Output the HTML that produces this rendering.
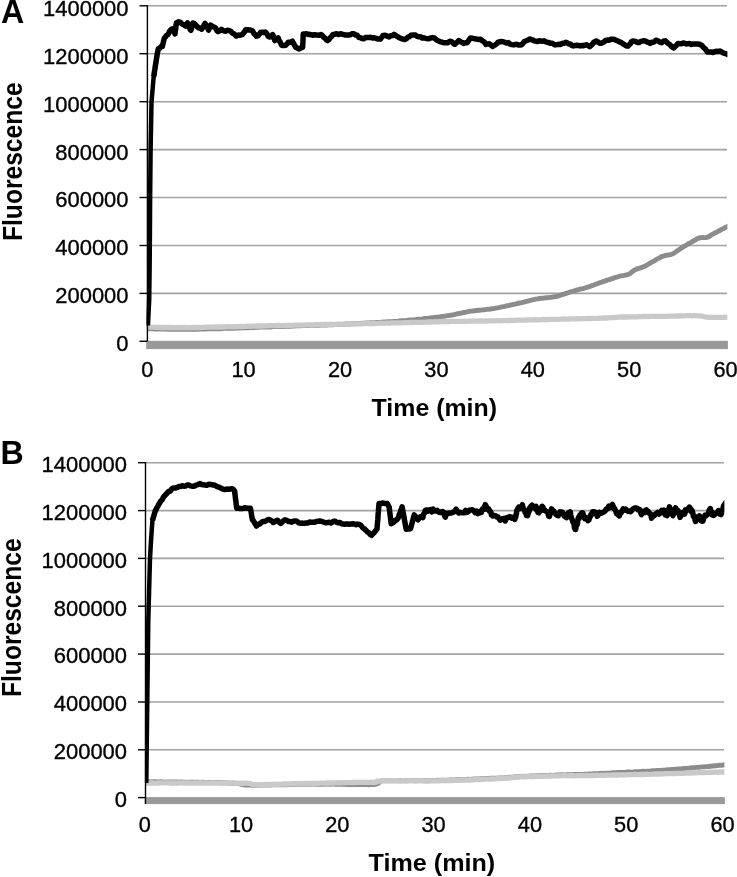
<!DOCTYPE html>
<html lang="en">
<head>
<meta charset="utf-8">
<title>Fluorescence vs Time</title>
<style>
html,body{margin:0;padding:0;background:#fff;}
body{width:737px;height:877px;overflow:hidden;}
svg{display:block;}
text{font-family:"Liberation Sans",sans-serif;fill:#000;}
.t{font-size:21.5px;stroke:#000;stroke-width:0.35px;}
.b{font-weight:bold;font-size:23.5px;}
.f{font-weight:bold;font-size:27.6px;}
.p{font-weight:bold;font-size:33.2px;}
.g{stroke:#a2a2a2;stroke-width:1.6;fill:none;}
.ax{stroke:#000;stroke-width:1.4;fill:none;}
.k{stroke:#000;stroke-width:5.5;fill:none;stroke-linejoin:round;stroke-linecap:butt;}
.k2{stroke:#000;stroke-width:4.5;fill:none;stroke-linejoin:round;stroke-linecap:butt;}
.d{stroke:#8c8c8c;stroke-width:4.9;fill:none;stroke-linejoin:round;}
.l{stroke:#c9c9c9;stroke-width:5.3;fill:none;stroke-linejoin:round;}
</style>
</head>
<body>
<svg width="737" height="877" viewBox="0 0 737 877">
<rect width="737" height="877" fill="#fff"/>

<!-- panel A -->
<clipPath id="clipA"><rect x="146.4" y="-4.2" width="581.0" height="355.5"/></clipPath>
<line class="g" x1="147" y1="5.8" x2="727" y2="5.8"/>
<line class="g" x1="147" y1="53.7" x2="727" y2="53.7"/>
<line class="g" x1="147" y1="101.7" x2="727" y2="101.7"/>
<line class="g" x1="147" y1="149.6" x2="727" y2="149.6"/>
<line class="g" x1="147" y1="197.5" x2="727" y2="197.5"/>
<line class="g" x1="147" y1="245.5" x2="727" y2="245.5"/>
<line class="g" x1="147" y1="293.4" x2="727" y2="293.4"/>
<rect x="146.2" y="340.8" width="581.7" height="8.3" fill="#999"/>
<polyline class="d" clip-path="url(#clipA)" points="147.0,328.7 148.1,328.6 149.5,328.8 151.0,328.8 152.8,328.9 154.6,329.0 156.7,328.9 158.8,329.0 161.0,328.9 163.3,329.0 165.7,329.1 168.1,329.2 170.5,329.3 172.9,329.2 175.3,329.2 177.7,329.2 180.0,329.4 181.8,329.2 183.7,329.3 185.6,329.4 187.6,329.1 189.5,329.3 191.5,329.3 193.5,329.1 195.5,329.2 197.5,329.2 199.6,329.0 201.6,329.0 203.7,329.1 205.7,329.0 207.8,328.9 209.8,328.8 211.9,328.8 213.9,328.7 216.0,328.7 218.0,328.6 220.0,328.7 222.0,328.6 224.0,328.4 226.0,328.4 228.0,328.3 230.0,328.3 232.0,328.2 234.0,328.2 236.0,328.1 238.0,328.0 240.0,328.0 242.0,327.8 244.0,327.9 246.0,327.6 248.0,327.7 250.0,327.5 252.0,327.5 254.0,327.5 256.0,327.3 258.0,327.2 260.0,327.1 262.0,327.0 264.0,327.1 266.0,327.0 268.0,327.0 270.0,327.0 272.0,326.8 274.0,326.6 276.0,326.6 278.0,326.6 280.0,326.4 282.0,326.5 284.0,326.5 286.0,326.4 288.0,326.2 290.0,326.2 292.0,326.0 294.0,326.0 296.0,325.9 298.0,325.9 300.0,325.8 302.0,325.6 304.0,325.6 306.1,325.5 308.2,325.5 310.2,325.4 312.3,325.4 314.4,325.3 316.5,325.3 318.6,325.3 320.6,325.1 322.7,325.0 324.7,325.0 326.7,325.0 328.7,324.9 330.7,324.8 332.6,324.8 334.5,324.5 336.4,324.6 338.2,324.4 340.0,324.4 342.3,324.4 344.5,324.3 346.6,324.0 348.7,324.0 350.7,323.8 352.7,323.7 354.7,323.8 356.6,323.6 358.5,323.5 360.4,323.4 362.3,323.3 364.2,323.2 366.1,322.9 368.0,322.9 370.0,322.8 372.0,322.6 374.0,322.6 376.0,322.5 378.0,322.4 380.0,322.4 382.0,322.1 384.0,322.0 386.0,322.0 388.0,321.7 390.0,321.6 392.0,321.6 394.0,321.4 396.0,321.4 398.0,321.2 400.0,320.9 402.0,320.8 404.1,320.7 406.2,320.6 408.3,320.2 410.4,320.0 412.5,320.0 414.6,319.8 416.7,319.4 418.7,319.2 420.7,319.1 422.7,318.9 424.6,318.5 426.5,318.4 428.3,318.3 430.0,318.0 432.4,317.6 434.6,317.4 436.7,317.2 438.7,317.1 440.6,316.7 442.5,316.4 444.3,316.3 446.1,315.9 448.0,315.6 450.0,315.3 452.0,315.0 454.0,314.7 456.0,314.2 458.0,313.7 460.1,313.3 462.1,312.9 464.1,312.5 466.2,312.1 468.3,311.5 470.4,311.1 472.3,311.0 474.3,310.8 476.3,310.5 478.3,310.3 480.3,310.2 482.3,309.9 484.3,309.8 486.4,309.4 488.5,309.2 490.6,309.0 492.7,308.6 494.7,308.5 496.7,307.9 498.8,307.6 500.9,307.1 503.0,306.7 505.1,306.3 507.2,305.7 509.3,305.4 511.3,304.9 513.3,304.4 515.3,304.1 517.2,303.5 519.4,303.0 521.6,302.6 523.7,302.1 525.7,301.5 527.7,301.2 529.7,300.7 531.7,300.0 533.6,299.7 535.6,299.2 537.5,298.9 539.6,298.5 541.7,298.3 543.8,298.1 545.9,297.8 547.9,297.7 549.9,297.4 551.9,297.2 553.9,296.8 555.8,296.6 557.9,296.1 560.0,295.4 562.1,294.7 564.1,294.1 566.1,293.4 568.1,292.7 570.1,291.9 572.1,291.5 574.2,290.9 576.4,290.2 578.5,289.6 580.7,288.9 582.8,288.6 584.9,288.0 586.7,287.4 588.4,287.0 591.1,285.9 593.2,285.2 595.1,284.4 597.2,283.7 599.1,282.9 601.1,282.4 603.1,281.6 605.2,280.9 607.4,280.1 609.4,279.6 611.4,278.9 613.6,278.1 615.7,277.3 617.7,276.8 619.6,276.1 622.1,275.7 624.4,275.4 626.4,274.9 628.4,274.4 630.6,273.1 632.6,271.3 634.9,269.9 636.6,269.0 638.6,268.5 640.6,267.9 642.7,267.0 644.7,266.3 646.7,265.2 648.6,264.2 650.6,262.9 652.5,261.7 654.5,260.7 656.5,259.4 658.5,258.4 660.4,257.3 662.4,256.3 664.2,255.8 666.3,255.2 668.3,255.0 670.3,254.7 672.4,254.0 674.2,253.1 676.2,251.6 678.1,250.2 680.1,249.0 682.1,247.6 684.1,246.4 686.1,245.3 688.1,244.0 690.0,243.0 691.9,241.9 694.1,240.6 696.2,239.3 698.2,238.3 700.1,237.7 702.5,237.4 704.6,237.6 706.6,237.5 709.0,236.6 711.5,234.8 713.3,234.0 715.4,232.7 717.5,231.7 719.6,230.5 721.7,229.3 723.8,228.4 725.7,227.3 727.0,226.7 730.0,225.2"/>
<polyline class="l" clip-path="url(#clipA)" points="147.0,327.2 148.1,327.2 149.5,327.2 151.0,327.2 152.8,327.2 154.6,327.3 156.7,327.3 158.8,327.3 161.0,327.5 163.3,327.4 165.7,327.5 168.1,327.5 170.5,327.5 172.9,327.6 175.3,327.7 177.7,327.6 180.0,327.5 181.8,327.7 183.7,327.5 185.6,327.5 187.6,327.6 189.5,327.6 191.5,327.6 193.5,327.5 195.5,327.4 197.5,327.5 199.6,327.5 201.6,327.4 203.7,327.4 205.7,327.2 207.8,327.2 209.8,327.2 211.9,327.2 213.9,327.2 216.0,327.0 218.0,327.1 220.0,327.0 222.0,327.0 224.0,326.9 226.0,326.9 228.0,326.7 230.0,326.7 232.0,326.8 234.0,326.6 236.0,326.7 238.0,326.6 240.0,326.4 242.0,326.5 244.0,326.3 246.0,326.4 248.0,326.2 250.0,326.3 252.0,326.1 254.0,326.1 256.0,326.2 258.0,326.0 260.0,326.0 262.0,326.0 264.0,325.8 266.0,325.9 268.0,325.9 270.0,325.7 272.0,325.7 274.0,325.6 276.0,325.7 278.0,325.5 280.0,325.5 282.0,325.6 284.0,325.5 286.0,325.3 288.0,325.4 290.0,325.3 292.0,325.3 294.0,325.2 296.0,325.1 298.0,325.2 300.0,325.2 302.0,325.1 303.9,325.1 305.8,324.9 307.7,324.9 309.5,324.8 311.4,324.9 313.2,324.8 315.0,324.7 316.9,324.7 318.8,324.6 320.6,324.5 322.6,324.6 324.5,324.5 326.5,324.5 328.6,324.5 330.7,324.3 332.9,324.4 335.2,324.3 337.5,324.2 340.0,324.2 341.7,324.3 343.4,324.1 345.2,324.1 347.1,324.1 349.0,324.0 350.9,324.0 352.8,323.9 354.8,323.9 356.8,323.9 358.9,323.8 361.0,323.8 363.0,323.6 365.1,323.7 367.3,323.6 369.4,323.5 371.5,323.5 373.6,323.5 375.8,323.4 377.9,323.3 380.0,323.2 382.1,323.2 384.2,323.3 386.3,323.1 388.3,323.2 390.3,323.1 392.3,322.9 394.3,322.9 396.2,322.9 398.1,322.9 400.0,322.9 402.2,322.8 404.4,322.6 406.5,322.6 408.7,322.6 410.8,322.5 412.9,322.5 415.0,322.3 417.1,322.4 419.1,322.4 421.2,322.3 423.2,322.3 425.2,322.2 427.2,322.2 429.2,321.9 431.1,322.0 433.1,321.9 435.0,321.8 437.0,321.8 438.9,321.9 440.8,321.7 442.6,321.6 444.5,321.6 446.3,321.7 448.2,321.6 450.0,321.4 452.2,321.4 454.4,321.4 456.6,321.3 458.7,321.4 460.8,321.3 462.9,321.3 464.9,321.3 466.9,321.3 468.9,321.1 470.9,321.1 472.9,321.1 474.9,321.2 476.8,321.1 478.8,321.0 480.7,321.0 482.7,321.0 484.7,321.1 486.7,321.0 488.7,320.9 490.7,320.9 492.7,320.9 494.8,320.8 496.8,320.7 498.8,320.7 500.9,320.8 502.9,320.7 504.9,320.6 507.0,320.5 509.0,320.5 511.0,320.4 513.1,320.3 515.1,320.3 517.2,320.2 519.2,320.2 521.2,320.2 523.3,320.1 525.3,320.1 527.3,319.9 529.4,319.9 531.4,319.8 533.5,319.8 535.5,319.7 537.6,319.8 539.7,319.8 541.9,319.6 544.0,319.5 546.2,319.6 548.3,319.5 550.4,319.4 552.5,319.4 554.7,319.3 556.7,319.3 558.8,319.3 560.8,319.2 562.8,319.2 564.8,319.0 566.7,319.1 568.5,319.1 570.4,318.9 572.1,318.9 574.7,318.9 577.1,318.7 579.4,318.8 581.6,318.7 583.8,318.6 585.8,318.7 587.9,318.4 589.9,318.6 591.8,318.4 593.8,318.4 595.8,318.3 597.9,318.3 600.0,318.1 602.1,318.1 604.1,318.0 606.1,318.0 608.1,317.9 610.1,317.7 612.1,317.7 614.1,317.6 616.1,317.4 618.2,317.2 620.4,317.2 622.7,317.0 625.1,316.9 627.7,317.0 629.5,316.9 631.3,316.8 633.2,316.8 635.2,316.8 637.2,316.8 639.3,316.6 641.5,316.6 643.6,316.5 645.8,316.5 648.0,316.5 650.2,316.4 652.4,316.3 654.5,316.4 656.7,316.4 658.8,316.3 660.8,316.4 662.8,316.3 664.8,316.3 666.6,316.3 668.4,316.1 670.9,316.1 673.3,316.2 675.6,316.1 677.9,315.9 680.1,316.0 682.3,315.8 684.4,315.8 686.5,315.7 688.4,315.7 690.3,315.7 692.1,315.8 693.8,315.7 695.4,315.7 696.9,315.8 699.8,315.9 702.0,316.1 703.7,316.5 705.2,316.8 706.9,317.1 709.1,317.3 711.2,317.3 713.6,317.4 716.2,317.4 718.8,317.3 721.3,317.4 723.7,317.3 725.6,317.3 727.0,317.2 730.0,317.2"/>
<polyline class="k2" clip-path="url(#clipA)" points="147.9,325.5 148.6,312.0 149.2,300.0 149.6,270.0 149.9,235.0 150.1,200.0 150.6,150.0 151.5,102.0 153.7,76.5 157.3,53.7"/>
<polyline class="k" clip-path="url(#clipA)" points="153.7,76.5 154.0,74.9 154.2,73.2 154.5,71.6 154.7,70.0 155.0,68.4 155.2,66.7 155.5,65.1 155.8,63.5 156.0,61.8 156.3,60.2 156.5,58.6 156.8,57.0 157.0,55.3 157.3,53.7 157.6,52.1 158.0,50.4 158.3,48.8 159.7,48.2 161.0,46.7 162.4,46.4 162.8,44.5 163.2,42.9 163.6,41.2 164.0,39.6 164.4,38.0 165.5,36.8 166.7,35.3 167.8,34.7 168.9,32.8 169.9,30.7 171.6,29.1 173.2,28.7 173.8,30.7 174.4,31.9 175.0,33.9 175.2,32.1 175.5,30.3 175.7,28.4 175.9,26.6 176.2,24.8 176.4,23.0 178.7,21.8 180.3,22.4 182.0,23.9 183.8,25.0 185.5,26.0 186.5,24.3 187.5,23.0 188.2,24.1 188.9,25.8 189.5,27.8 190.2,29.6 190.9,30.3 191.4,28.6 191.9,26.8 192.4,24.9 192.9,23.0 194.3,23.6 195.6,24.8 197.0,26.5 198.6,27.8 200.1,28.0 201.7,29.2 202.5,27.8 203.4,26.9 204.2,24.7 205.1,23.4 205.9,25.3 206.8,26.6 207.7,28.1 208.5,30.1 209.2,28.5 209.9,26.2 210.6,25.1 212.6,26.5 214.6,27.3 215.7,28.1 216.9,30.7 218.0,31.6 219.7,30.8 221.4,29.3 223.4,30.7 225.5,31.3 227.6,30.3 229.6,30.6 230.9,31.3 232.3,33.2 233.6,33.6 234.9,34.7 236.3,36.1 238.3,35.1 240.2,35.2 242.2,34.7 243.3,33.3 244.5,31.9 245.6,29.8 247.6,29.7 249.7,30.0 251.7,30.4 252.9,31.5 254.1,33.8 255.3,34.6 256.5,36.3 257.8,35.8 259.2,34.3 260.5,32.5 262.1,32.2 263.7,32.5 265.3,32.0 266.3,33.0 267.3,34.5 268.3,36.4 269.3,37.0 271.0,36.5 272.7,34.6 273.2,35.7 273.8,38.0 274.3,38.7 274.8,40.6 276.5,39.4 278.2,37.8 278.9,40.0 279.6,41.2 280.2,42.1 280.9,43.6 281.6,45.2 283.6,45.6 285.6,45.3 287.0,43.9 288.3,42.3 290.4,42.2 292.4,41.2 293.2,42.7 294.1,44.4 294.9,45.8 295.8,47.5 297.5,48.1 299.2,49.0 300.9,47.9 302.6,47.4 302.7,45.8 302.8,44.1 302.9,42.4 303.0,40.7 303.0,39.0 303.1,37.3 303.2,35.6 303.3,33.9 304.9,33.9 306.5,33.8 308.2,34.5 309.8,34.3 311.4,34.8 313.2,35.2 315.0,34.7 316.8,35.1 318.9,35.3 320.9,34.6 322.2,35.2 323.5,37.1 324.9,38.0 326.2,39.7 327.5,40.6 328.9,39.5 330.2,37.8 331.5,36.6 332.9,34.5 334.8,34.2 336.6,33.7 338.5,34.5 340.4,33.7 342.0,34.2 343.6,34.5 345.3,35.1 346.9,34.9 348.5,35.1 350.3,34.7 352.1,33.8 353.9,33.8 355.5,35.0 357.2,35.3 358.8,37.4 360.5,37.8 362.1,38.6 363.8,38.8 365.5,37.6 367.1,37.4 368.8,37.6 370.6,37.2 372.5,38.0 374.3,37.7 376.3,38.5 378.4,39.1 380.4,39.1 381.3,37.8 382.2,36.7 383.1,35.4 385.1,35.3 387.2,36.1 389.2,36.9 390.8,35.7 392.4,35.6 394.0,34.4 395.5,35.4 397.0,36.3 398.5,37.3 400.0,38.1 401.6,38.8 403.2,39.1 404.8,39.5 406.3,38.8 407.9,37.1 409.4,36.7 410.9,35.3 413.1,35.0 415.4,35.1 417.1,36.3 418.8,36.8 420.5,36.8 422.2,38.1 423.8,37.7 425.4,38.3 427.0,38.7 428.9,38.7 430.7,37.9 432.5,37.6 434.4,38.0 436.0,39.5 437.6,40.6 439.2,41.3 440.9,41.8 442.6,42.3 444.3,42.8 446.0,42.7 447.6,42.7 449.1,41.6 450.7,41.2 452.1,42.1 453.4,43.5 454.8,44.3 456.1,42.9 457.5,42.1 458.8,40.5 460.4,41.6 462.0,42.4 463.6,43.4 465.3,42.7 467.0,42.8 468.1,41.3 469.3,39.7 470.4,38.1 472.8,38.3 475.1,38.9 476.9,39.0 478.8,39.6 480.6,39.2 482.0,40.7 483.3,41.3 484.6,42.4 486.0,44.4 487.7,43.9 489.4,43.8 491.1,45.2 492.8,46.4 494.1,45.4 495.5,44.7 496.9,43.6 498.2,42.1 499.8,41.8 501.4,41.6 503.1,41.8 504.7,42.2 506.5,43.1 508.3,42.6 510.0,44.1 511.8,44.6 513.6,44.9 515.2,44.4 516.8,44.3 518.5,45.1 520.1,45.0 521.7,44.7 523.1,43.2 524.4,41.5 525.8,41.0 527.8,40.1 529.9,39.0 531.4,39.8 533.0,40.0 534.5,41.1 536.0,41.2 537.6,41.5 539.2,40.8 540.9,40.9 542.5,41.3 544.1,40.7 545.6,41.8 547.2,42.2 548.7,42.5 550.2,43.3 551.9,43.2 553.6,44.2 555.3,44.9 557.0,44.6 558.8,44.3 560.6,44.4 562.4,43.3 564.1,43.3 565.8,42.3 567.3,42.9 568.8,44.0 570.4,44.1 571.9,45.5 573.5,45.9 575.1,45.4 576.8,45.3 578.4,45.4 580.0,45.9 581.7,45.5 583.4,45.8 585.1,45.1 586.8,44.8 588.2,45.6 589.6,46.7 590.9,45.5 592.3,44.4 593.6,42.5 596.2,41.0 598.0,42.0 599.7,43.2 601.5,43.3 602.9,42.4 604.2,41.8 605.6,40.4 607.0,40.1 608.8,40.3 610.6,39.3 612.4,39.3 614.2,39.3 616.0,40.3 617.8,41.0 619.6,41.9 621.4,42.6 623.2,44.0 624.8,44.9 626.4,45.9 628.0,46.1 629.2,44.7 630.4,43.8 631.5,41.6 632.7,41.0 634.2,41.2 635.8,41.5 637.3,42.5 638.8,42.6 640.4,41.6 642.1,41.1 643.7,40.8 645.3,40.9 647.0,42.0 648.6,42.4 650.2,43.4 651.6,42.2 653.0,42.2 654.5,41.6 655.9,40.2 657.8,40.9 659.8,42.0 661.7,42.8 663.5,41.2 665.4,40.8 666.9,42.4 668.5,43.8 670.0,44.8 671.3,46.3 672.5,47.1 673.8,48.0 675.2,46.3 676.6,45.1 678.0,43.4 679.7,43.8 681.4,43.7 683.0,43.1 684.7,43.3 686.4,43.9 688.0,43.7 689.6,43.6 691.3,44.4 693.0,44.0 694.7,43.9 696.4,44.1 698.1,44.0 700.1,44.5 702.1,45.6 703.2,47.2 704.3,48.1 705.4,49.1 706.5,50.8 707.6,52.1 709.3,52.1 711.0,51.9 712.6,52.5 714.3,52.0 716.1,51.2 718.0,51.6 719.8,51.0 721.1,51.6 722.5,52.7 724.5,53.3 726.5,53.9 729.5,55.1"/>
<line class="ax" x1="147.4" y1="5.2" x2="147.4" y2="341.6"/>
<line class="ax" x1="139.5" y1="5.8" x2="147" y2="5.8"/>
<line class="ax" x1="139.5" y1="53.7" x2="147" y2="53.7"/>
<line class="ax" x1="139.5" y1="101.7" x2="147" y2="101.7"/>
<line class="ax" x1="139.5" y1="149.6" x2="147" y2="149.6"/>
<line class="ax" x1="139.5" y1="197.5" x2="147" y2="197.5"/>
<line class="ax" x1="139.5" y1="245.5" x2="147" y2="245.5"/>
<line class="ax" x1="139.5" y1="293.4" x2="147" y2="293.4"/>
<line class="ax" x1="139.5" y1="341.3" x2="147" y2="341.3"/>
<text class="t" x="128.5" y="15.7" text-anchor="end" textLength="85.4" lengthAdjust="spacingAndGlyphs">1400000</text>
<text class="t" x="128.5" y="63.6" text-anchor="end" textLength="85.4" lengthAdjust="spacingAndGlyphs">1200000</text>
<text class="t" x="128.5" y="111.6" text-anchor="end" textLength="85.4" lengthAdjust="spacingAndGlyphs">1000000</text>
<text class="t" x="128.5" y="159.5" text-anchor="end" textLength="73.2" lengthAdjust="spacingAndGlyphs">800000</text>
<text class="t" x="128.5" y="207.4" text-anchor="end" textLength="73.2" lengthAdjust="spacingAndGlyphs">600000</text>
<text class="t" x="128.5" y="255.4" text-anchor="end" textLength="73.2" lengthAdjust="spacingAndGlyphs">400000</text>
<text class="t" x="128.5" y="303.3" text-anchor="end" textLength="73.2" lengthAdjust="spacingAndGlyphs">200000</text>
<text class="t" x="128.5" y="351.2" text-anchor="end" textLength="12.2" lengthAdjust="spacingAndGlyphs">0</text>
<text class="t" x="147.2" y="376.8" text-anchor="middle" textLength="12.1" lengthAdjust="spacingAndGlyphs">0</text>
<text class="t" x="243.6" y="376.8" text-anchor="middle" textLength="24.2" lengthAdjust="spacingAndGlyphs">10</text>
<text class="t" x="340.0" y="376.8" text-anchor="middle" textLength="24.2" lengthAdjust="spacingAndGlyphs">20</text>
<text class="t" x="436.4" y="376.8" text-anchor="middle" textLength="24.2" lengthAdjust="spacingAndGlyphs">30</text>
<text class="t" x="532.8" y="376.8" text-anchor="middle" textLength="24.2" lengthAdjust="spacingAndGlyphs">40</text>
<text class="t" x="629.2" y="376.8" text-anchor="middle" textLength="24.2" lengthAdjust="spacingAndGlyphs">50</text>
<text class="t" x="725.6" y="376.8" text-anchor="middle" textLength="24.2" lengthAdjust="spacingAndGlyphs">60</text>
<text class="b" x="371.6" y="416.1" textLength="125.4" lengthAdjust="spacingAndGlyphs">Time (min)</text>
<text class="f" transform="translate(22.0,241.0) rotate(-90)" textLength="158.6" lengthAdjust="spacingAndGlyphs">Fluorescence</text>
<text class="p" transform="translate(0.9,22.9) scale(0.97,1)">A</text>
<!-- panel B -->
<clipPath id="clipB"><rect x="144.9" y="452.7" width="579.5" height="354.9"/></clipPath>
<line class="g" x1="145.5" y1="462.7" x2="724" y2="462.7"/>
<line class="g" x1="145.5" y1="510.6" x2="724" y2="510.6"/>
<line class="g" x1="145.5" y1="558.4" x2="724" y2="558.4"/>
<line class="g" x1="145.5" y1="606.2" x2="724" y2="606.2"/>
<line class="g" x1="145.5" y1="654.1" x2="724" y2="654.1"/>
<line class="g" x1="145.5" y1="702.0" x2="724" y2="702.0"/>
<line class="g" x1="145.5" y1="749.8" x2="724" y2="749.8"/>
<rect x="144.7" y="797.1" width="580.2" height="7.0" fill="#999"/>
<polyline class="d" clip-path="url(#clipB)" points="146.0,781.8 147.1,781.7 148.3,781.8 149.7,781.8 151.3,781.9 153.0,781.8 154.8,781.8 156.7,781.9 158.7,781.9 160.7,781.8 162.9,781.9 165.1,782.1 167.4,782.0 169.7,782.0 172.0,782.0 174.4,781.9 176.8,782.0 179.1,782.2 181.5,782.0 183.8,782.2 186.1,782.2 188.3,782.2 190.5,782.1 192.6,782.1 194.6,782.2 196.5,782.3 198.3,782.3 200.0,782.4 202.5,782.3 205.0,782.5 207.4,782.5 209.7,782.5 212.0,782.4 214.2,782.5 216.3,782.5 218.3,782.5 220.3,782.7 222.2,782.7 224.1,782.9 225.9,782.8 227.6,782.9 229.3,783.1 230.9,783.2 232.5,783.0 234.0,783.3 236.7,783.4 238.7,783.6 240.2,784.0 241.6,784.3 243.0,784.6 244.9,785.0 247.5,785.1 251.0,785.1 252.4,785.3 254.0,785.1 255.7,785.3 257.5,785.2 259.4,785.2 261.4,785.0 263.5,785.0 265.7,785.1 267.9,785.0 270.1,785.1 272.4,784.9 274.7,784.9 277.0,784.7 279.3,784.8 281.6,784.8 283.9,784.6 286.1,784.7 288.3,784.5 290.5,784.6 292.6,784.4 294.6,784.3 296.5,784.4 298.3,784.4 300.0,784.2 302.5,784.2 304.8,784.2 307.0,784.2 309.0,784.3 310.9,784.3 312.6,784.1 314.4,784.1 316.1,784.2 317.8,784.2 319.6,784.1 321.4,784.2 323.3,784.3 325.4,784.1 327.6,784.1 330.0,784.3 331.8,784.1 333.7,784.1 335.7,784.2 337.8,784.3 340.0,784.2 342.2,784.2 344.5,784.4 346.9,784.5 349.2,784.5 351.6,784.5 353.9,784.6 356.3,784.4 358.6,784.5 360.8,784.5 363.0,784.6 365.1,784.5 367.1,784.5 368.9,784.7 370.7,784.5 372.3,784.5 373.7,784.6 375.0,784.4 378.3,783.4 377.3,782.1 382.0,780.9 383.2,780.8 384.5,780.9 385.9,780.8 387.4,780.7 389.0,780.7 390.6,780.8 392.4,780.7 394.3,780.7 396.2,780.6 398.1,780.7 400.2,780.5 402.3,780.7 404.4,780.5 406.6,780.7 408.8,780.6 411.0,780.6 413.3,780.6 415.6,780.6 417.9,780.6 420.2,780.6 422.5,780.6 424.7,780.4 427.0,780.5 429.3,780.5 431.5,780.4 433.7,780.5 435.8,780.4 437.9,780.3 440.0,780.4 442.0,780.2 444.0,780.2 446.1,780.2 448.2,780.2 450.3,779.9 452.5,780.0 454.7,779.9 456.9,779.7 459.1,779.7 461.3,779.7 463.6,779.7 465.8,779.5 468.0,779.3 470.2,779.4 472.4,779.1 474.5,779.0 476.7,779.0 478.8,779.0 480.9,778.7 482.9,778.7 484.9,778.6 486.8,778.5 488.7,778.4 490.5,778.3 492.3,778.3 494.0,778.2 495.6,778.1 497.2,778.2 498.6,778.0 500.0,777.9 503.5,777.9 506.2,777.7 508.3,777.5 509.9,777.2 511.2,777.2 512.5,777.1 513.8,777.0 515.4,776.8 517.4,776.7 520.0,776.5 521.6,776.4 523.2,776.2 525.0,776.4 526.9,776.2 528.8,776.1 530.8,775.9 532.9,775.9 535.0,775.9 537.2,775.7 539.4,775.6 541.6,775.6 543.8,775.5 545.9,775.5 548.1,775.4 550.2,775.3 552.3,775.4 554.4,775.3 556.3,775.0 558.2,775.0 560.0,775.0 562.3,774.8 564.5,774.9 566.6,774.8 568.7,774.7 570.7,774.7 572.7,774.6 574.7,774.5 576.6,774.5 578.5,774.5 580.4,774.4 582.3,774.4 584.2,774.3 586.1,774.1 588.0,774.1 590.0,773.9 592.0,773.9 594.0,773.7 596.0,773.6 598.0,773.7 600.0,773.4 602.0,773.3 604.0,773.4 606.0,773.2 608.0,773.1 610.0,773.1 612.0,772.8 614.0,772.7 616.0,772.7 618.0,772.5 620.0,772.5 622.0,772.5 623.9,772.4 625.8,772.3 627.7,772.0 629.6,772.0 631.5,772.1 633.4,772.0 635.3,771.8 637.3,771.7 639.3,771.6 641.3,771.4 643.4,771.3 645.5,771.4 647.7,771.1 650.0,771.1 651.8,770.8 653.6,770.8 655.5,770.6 657.5,770.4 659.4,770.4 661.5,770.3 663.5,770.1 665.6,770.0 667.7,769.8 669.8,769.7 671.9,769.4 674.0,769.4 676.0,769.1 678.1,768.9 680.2,768.9 682.2,768.6 684.2,768.5 686.2,768.4 688.1,768.2 690.0,768.0 692.2,767.7 694.5,767.6 696.8,767.4 699.1,767.3 701.5,766.9 703.8,766.9 706.1,766.6 708.4,766.5 710.6,766.2 712.7,766.0 714.8,765.8 716.7,765.7 718.5,765.3 720.1,765.3 721.6,765.2 722.9,765.1 724.0,764.8 727.0,764.4"/>
<polyline class="l" clip-path="url(#clipB)" points="146.0,783.0 147.1,783.0 148.3,783.1 149.7,783.1 151.1,782.9 152.7,783.0 154.4,783.1 156.3,783.1 158.2,783.0 160.1,782.9 162.2,782.9 164.3,782.9 166.5,782.9 168.7,782.9 171.0,783.0 173.3,783.0 175.6,783.0 178.0,783.0 180.3,782.9 182.6,782.9 184.9,783.0 187.2,783.0 189.5,782.9 191.7,783.1 193.9,783.0 196.0,783.0 198.0,783.0 200.0,783.0 202.1,782.9 204.3,783.0 206.5,783.0 208.7,783.1 211.0,783.0 213.3,783.0 215.6,783.0 217.9,783.2 220.2,783.2 222.5,783.1 224.8,783.0 227.0,783.0 229.2,783.1 231.4,783.2 233.5,783.1 235.6,783.1 237.5,783.1 239.5,783.3 241.3,783.2 243.0,783.3 244.6,783.2 246.2,783.2 247.6,783.4 248.9,783.3 250.0,783.4 252.2,784.2 254.0,784.7 255.2,784.8 256.5,784.8 257.9,784.7 259.5,784.8 261.1,784.6 262.9,784.6 264.8,784.6 266.7,784.5 268.8,784.6 270.9,784.4 273.0,784.3 275.2,784.2 277.5,784.3 279.8,784.3 282.0,784.1 284.4,784.0 286.7,784.0 289.0,783.9 291.2,783.9 293.5,783.7 295.7,783.7 297.9,783.7 300.0,783.7 301.9,783.5 303.9,783.6 306.0,783.4 308.0,783.5 310.1,783.5 312.2,783.3 314.4,783.3 316.5,783.2 318.7,783.3 320.9,783.2 323.0,783.1 325.2,783.1 327.3,783.0 329.4,783.1 331.5,783.0 333.6,782.9 335.6,782.8 337.6,782.9 339.6,782.7 341.5,782.8 343.3,782.6 345.1,782.6 346.8,782.6 348.4,782.6 350.0,782.7 352.8,782.5 355.5,782.5 358.0,782.4 360.4,782.4 362.7,782.4 364.8,782.4 366.7,782.4 368.5,782.4 370.3,782.3 371.9,782.4 373.3,782.3 374.7,782.4 376.0,782.1 377.6,781.8 376.9,781.1 379.4,781.1 382.0,780.6 383.2,780.6 384.4,780.6 385.8,780.7 387.3,780.6 388.9,780.6 390.6,780.7 392.3,780.6 394.2,780.7 396.1,780.7 398.1,780.6 400.1,780.8 402.2,780.7 404.3,780.7 406.5,780.8 408.7,780.9 411.0,780.8 413.2,780.8 415.5,781.0 417.8,780.9 420.1,780.9 422.4,780.9 424.7,781.0 427.0,780.9 429.2,781.0 431.5,780.9 433.7,780.8 435.8,780.9 437.9,780.9 440.0,780.8 442.0,780.7 444.0,780.6 446.1,780.7 448.2,780.6 450.3,780.5 452.5,780.5 454.7,780.4 456.9,780.3 459.1,780.3 461.3,780.2 463.6,780.1 465.8,780.0 468.0,780.0 470.2,780.0 472.4,779.8 474.5,779.7 476.7,779.7 478.8,779.6 480.9,779.5 482.9,779.4 484.9,779.3 486.8,779.1 488.7,779.1 490.5,779.0 492.3,778.9 494.0,778.9 495.6,778.8 497.2,778.6 498.6,778.7 500.0,778.6 503.5,778.4 506.2,778.1 508.3,778.1 509.9,777.8 511.2,777.6 512.5,777.5 513.8,777.3 515.4,777.2 517.4,777.1 520.0,776.8 521.6,776.9 523.2,776.7 525.0,776.8 526.9,776.7 528.8,776.6 530.8,776.6 532.9,776.5 535.0,776.3 537.2,776.3 539.4,776.3 541.6,776.3 543.8,776.2 545.9,776.1 548.1,776.0 550.2,776.1 552.3,775.9 554.4,775.9 556.3,775.8 558.2,775.8 560.0,775.8 562.2,775.7 564.3,775.7 566.2,775.6 567.9,775.8 569.6,775.7 571.3,775.7 572.9,775.7 574.6,775.8 576.3,775.6 578.1,775.7 580.1,775.5 582.2,775.6 584.6,775.5 587.1,775.4 590.0,775.6 591.5,775.4 593.2,775.5 594.9,775.4 596.7,775.4 598.5,775.4 600.4,775.4 602.4,775.2 604.4,775.3 606.4,775.1 608.5,775.1 610.6,775.2 612.8,775.0 615.0,775.0 617.2,775.0 619.4,774.9 621.6,774.9 623.8,774.8 626.0,774.8 628.2,774.6 630.4,774.7 632.5,774.7 634.7,774.5 636.7,774.6 638.8,774.6 640.8,774.4 642.8,774.5 644.7,774.4 646.5,774.2 648.3,774.3 650.0,774.3 652.5,774.2 654.8,774.0 657.1,774.0 659.4,774.0 661.5,773.9 663.7,773.8 665.7,773.7 667.7,773.6 669.7,773.6 671.6,773.6 673.5,773.5 675.4,773.6 677.2,773.3 679.1,773.3 680.9,773.4 682.7,773.3 684.5,773.1 686.3,773.2 688.2,773.0 690.0,773.1 692.2,772.9 694.5,772.9 696.8,772.8 699.1,772.7 701.5,772.6 703.8,772.5 706.1,772.4 708.4,772.4 710.6,772.3 712.7,772.3 714.8,772.2 716.7,772.2 718.5,772.2 720.1,772.0 721.6,772.0 722.9,772.0 724.0,771.9 727.0,771.8"/>
<polyline class="k2" clip-path="url(#clipB)" points="146.3,783.0 146.8,740.0 147.3,700.0 147.8,660.0 148.3,620.0 148.7,606.0 150.0,558.5 151.0,541.0 152.4,520.5 155.3,510.9"/>
<polyline class="k" clip-path="url(#clipB)" points="152.4,520.5 152.9,518.9 153.4,517.3 153.9,515.7 154.3,514.1 154.8,512.5 155.3,510.9 156.2,509.2 157.0,507.5 157.9,506.2 158.7,504.3 159.6,503.2 160.4,501.6 161.4,500.5 162.4,499.2 163.4,497.3 164.5,495.9 165.5,494.8 166.5,493.9 167.7,492.4 168.9,491.3 170.2,491.2 171.4,489.4 172.6,488.3 174.2,488.1 175.8,487.9 177.5,487.3 179.1,486.5 180.7,486.5 182.3,485.7 183.9,486.2 185.6,486.1 187.2,484.9 188.8,485.1 190.6,485.9 192.5,486.2 194.3,486.3 196.1,485.1 197.9,484.6 199.7,483.5 201.5,484.5 203.3,484.7 205.1,485.0 206.9,485.2 208.8,484.3 210.6,484.4 212.4,484.9 214.2,484.9 216.0,486.0 217.7,486.9 219.4,487.2 221.1,488.3 222.8,489.1 224.7,489.5 226.6,489.1 228.5,489.3 230.4,488.9 232.3,488.7 233.4,489.5 234.6,491.2 234.8,492.7 235.0,494.4 235.2,496.2 235.4,497.9 235.6,499.6 235.9,501.3 236.1,503.0 236.3,504.8 236.5,506.5 236.7,508.2 238.4,508.0 240.1,508.6 241.9,508.4 243.6,508.2 245.3,507.8 247.0,508.3 248.7,508.3 250.4,508.3 250.7,509.8 251.0,511.5 251.3,513.1 251.5,514.8 251.8,516.4 252.1,518.1 252.4,519.7 253.4,520.7 254.4,522.5 255.5,524.3 256.5,526.0 258.1,524.4 259.6,524.0 261.2,522.7 262.8,521.4 264.4,521.6 266.1,520.7 267.7,519.8 269.3,519.5 270.7,520.4 272.0,521.0 273.4,522.5 275.4,521.3 277.5,520.3 279.2,522.2 280.9,523.4 282.3,521.9 283.6,520.6 285.0,519.8 286.7,520.3 288.4,521.5 290.0,521.5 291.7,522.2 293.4,521.2 295.1,520.9 296.9,521.3 298.8,522.9 300.6,523.2 302.4,523.1 304.2,523.4 306.0,522.9 307.8,522.9 309.6,522.1 311.4,522.3 313.0,522.3 314.7,522.2 316.3,521.4 318.0,521.3 319.6,521.0 321.2,521.2 322.8,521.8 324.4,522.4 326.1,522.8 327.7,522.6 329.3,522.3 330.9,523.0 332.2,522.3 333.6,521.3 335.2,521.2 336.8,522.4 338.4,522.9 339.9,522.4 341.5,523.8 343.1,523.9 344.7,524.2 346.3,524.0 348.0,524.0 349.6,524.2 351.2,523.9 352.8,523.8 354.4,524.0 356.1,524.7 357.7,524.1 359.3,524.4 360.7,525.3 362.0,526.8 363.4,528.3 364.7,529.0 366.1,530.6 367.5,531.9 368.9,532.8 370.2,534.4 371.6,535.3 372.7,533.9 373.8,533.1 374.8,531.7 375.9,530.4 377.0,529.0 377.1,527.6 377.2,526.0 377.4,524.4 377.5,522.8 377.6,521.1 377.8,519.5 377.9,517.9 378.0,516.3 378.1,514.7 378.2,513.1 378.4,511.5 378.5,509.9 378.6,508.2 378.8,506.6 378.9,505.0 379.0,503.4 380.6,503.9 382.3,503.0 383.9,503.3 385.6,503.5 387.2,503.6 388.2,505.2 389.2,507.3 389.4,509.1 389.6,510.8 389.8,512.4 390.0,514.0 390.2,515.6 390.4,517.3 390.6,518.9 390.8,520.5 391.0,522.2 391.2,523.8 392.6,522.9 393.9,522.1 395.3,520.4 396.6,519.9 398.0,518.2 398.6,517.1 399.2,514.5 399.8,513.6 400.3,512.2 400.9,509.8 401.5,508.8 402.1,506.9 402.4,508.4 402.7,510.0 403.0,511.6 403.3,513.2 403.6,514.8 403.9,516.4 404.1,518.0 404.4,519.6 404.7,521.2 405.0,522.8 405.3,524.4 405.6,526.0 405.9,527.6 406.2,529.2 408.4,528.9 410.5,528.7 410.9,527.4 411.3,525.8 411.7,524.3 412.1,522.7 412.6,521.1 413.0,519.5 413.4,518.0 413.8,516.4 414.2,514.8 415.5,516.6 416.8,517.6 418.1,519.8 419.3,518.0 420.5,516.7 421.7,516.3 422.9,517.5 423.4,514.4 424.0,513.6 424.5,513.2 425.1,510.8 425.6,510.1 426.9,509.9 428.1,511.1 429.4,509.9 430.6,509.5 431.9,511.9 433.1,509.1 434.4,510.7 435.8,511.0 437.1,510.4 438.5,512.0 439.9,512.4 441.2,511.8 442.6,511.6 443.5,512.0 444.4,515.7 445.3,517.2 446.3,514.0 447.3,513.3 448.3,513.5 449.3,513.1 450.7,513.1 452.0,512.6 453.4,512.0 454.7,511.6 456.1,509.2 457.5,511.5 458.9,513.0 460.2,512.3 461.6,512.7 462.9,512.8 464.3,512.7 465.6,510.3 467.0,512.3 468.3,511.6 469.7,510.0 471.0,510.0 472.4,509.8 473.7,510.6 475.1,512.5 476.5,511.2 477.9,513.7 479.2,511.8 480.6,512.7 481.3,512.5 481.9,510.1 482.6,508.8 483.3,509.5 484.0,507.3 484.6,507.3 485.3,504.6 486.1,506.0 487.0,509.2 487.9,509.3 488.7,508.9 489.4,511.1 490.1,511.1 490.8,512.1 491.4,515.0 492.1,514.5 492.8,516.0 494.1,515.5 495.5,515.7 496.8,516.8 497.9,517.0 499.1,518.6 500.2,520.2 501.4,519.1 502.7,518.7 503.9,518.5 505.2,521.0 506.3,518.0 507.4,517.4 508.4,517.4 509.5,516.6 510.6,516.9 511.7,518.3 512.7,517.8 513.8,517.2 514.9,519.4 515.3,517.5 515.7,517.4 516.1,514.1 516.4,514.2 516.8,510.5 517.2,510.5 517.6,509.0 518.8,507.1 520.0,508.6 521.2,507.6 522.4,504.7 522.9,507.4 523.4,509.3 524.0,509.4 524.5,509.9 525.0,512.1 525.5,512.3 526.1,514.1 526.6,515.6 527.1,515.6 527.5,515.7 528.0,514.0 528.4,513.1 528.8,510.8 529.2,511.2 529.6,508.0 530.1,507.9 530.5,506.9 532.1,505.1 533.7,507.8 535.3,507.0 536.0,506.4 536.7,510.1 537.3,510.8 538.0,512.5 538.7,512.8 539.4,511.1 540.1,511.0 540.7,508.5 541.4,507.7 542.1,506.3 542.9,507.2 543.7,510.3 544.6,509.8 545.4,510.7 546.2,511.3 547.0,512.1 547.9,512.7 548.7,516.1 549.5,516.4 549.9,514.3 550.3,513.5 550.8,513.1 551.2,510.3 551.6,508.8 552.7,510.3 553.8,511.2 555.0,513.4 556.1,514.5 557.2,515.3 558.3,515.7 559.1,514.1 560.0,511.8 560.9,513.4 561.7,512.1 562.5,512.2 563.3,514.2 564.2,515.9 565.0,515.1 565.8,517.3 566.6,517.6 567.4,514.1 568.3,512.9 569.1,514.7 569.9,513.5 570.3,511.9 570.7,514.9 571.1,516.3 571.4,517.8 571.8,518.7 572.2,519.7 572.6,521.1 573.0,522.3 573.4,521.7 573.8,523.2 574.1,524.8 574.5,528.2 574.9,527.9 575.3,529.6 575.7,529.6 576.1,525.4 576.4,524.5 576.8,523.6 577.2,524.6 577.6,522.7 577.9,519.5 578.3,518.1 578.7,517.2 579.2,518.4 579.8,515.4 580.3,515.5 580.9,514.1 581.4,513.2 582.1,512.8 582.8,513.0 583.4,514.9 584.1,517.3 584.8,518.5 585.8,517.5 586.8,518.7 587.9,520.6 588.9,520.0 589.4,518.3 589.8,517.3 590.2,516.8 590.7,514.8 591.1,515.4 591.6,513.8 592.0,513.6 592.5,511.7 593.7,511.8 594.9,511.9 596.0,513.1 597.2,516.3 598.3,514.8 599.3,512.3 600.4,512.9 601.5,513.2 602.5,512.6 603.6,512.1 604.9,511.4 606.3,509.0 607.6,508.8 608.8,506.1 610.0,507.4 611.2,506.2 612.4,504.5 613.1,505.9 613.8,508.6 614.4,508.2 615.1,509.8 615.8,511.1 616.5,513.6 617.1,512.9 617.8,513.7 618.5,515.2 619.3,515.9 620.1,512.5 620.9,513.1 621.6,511.8 622.4,510.2 623.2,509.0 624.4,510.2 625.6,509.1 626.9,510.5 628.1,511.4 629.3,511.0 630.7,511.6 632.0,510.2 633.4,508.7 634.7,508.1 636.0,508.0 637.3,508.4 638.1,509.9 639.0,509.9 639.8,509.5 640.6,512.5 641.5,514.6 642.3,512.8 643.3,513.0 644.3,511.1 645.4,512.3 646.4,509.9 647.4,512.0 648.1,511.3 648.8,513.1 649.5,513.1 650.1,514.2 650.8,514.2 651.5,518.2 652.2,517.2 653.3,516.2 654.4,515.6 655.4,514.0 656.5,513.5 657.6,512.5 659.0,514.1 660.3,513.1 661.6,510.4 663.0,511.7 663.8,510.0 664.5,512.9 665.3,514.9 666.0,513.8 666.8,514.6 667.2,515.6 667.7,513.8 668.1,513.7 668.6,509.6 669.0,508.4 669.5,506.8 670.1,508.9 670.7,509.2 671.2,512.3 671.8,511.8 672.4,514.2 673.0,515.7 673.4,513.0 673.9,513.8 674.3,513.6 674.7,510.3 675.1,509.5 675.6,507.8 676.0,508.6 676.6,509.4 677.1,511.1 677.7,510.4 678.3,511.4 678.9,511.6 679.4,513.1 680.0,517.4 681.2,515.3 682.4,514.0 683.5,512.2 684.7,514.0 685.5,509.9 686.3,511.0 687.0,509.8 687.8,509.3 688.6,508.3 689.4,507.1 690.0,508.0 690.7,508.8 691.3,511.4 692.0,510.4 692.6,512.2 693.1,515.0 693.6,516.6 694.1,517.0 694.5,516.1 695.0,519.9 695.5,521.5 696.0,521.0 696.9,519.7 697.7,518.5 698.5,518.4 699.4,515.9 700.2,516.8 701.1,520.7 701.9,520.1 702.8,521.2 703.4,519.3 703.9,517.3 704.5,516.2 705.1,515.1 705.6,516.1 706.2,515.3 707.2,514.8 708.2,513.9 709.3,510.0 710.3,508.6 711.0,511.9 711.7,511.7 712.3,514.9 713.0,514.5 713.7,515.4 714.9,514.3 716.0,512.9 717.2,512.8 718.4,510.5 719.8,514.2 721.1,514.6 721.5,513.6 721.9,512.6 722.3,510.5 722.7,510.0 723.1,508.2 723.5,506.0 726.5,501.5"/>
<line class="ax" x1="145.5" y1="462.1" x2="145.5" y2="804.1"/>
<line class="ax" x1="138.0" y1="462.7" x2="145.5" y2="462.7"/>
<line class="ax" x1="138.0" y1="510.6" x2="145.5" y2="510.6"/>
<line class="ax" x1="138.0" y1="558.4" x2="145.5" y2="558.4"/>
<line class="ax" x1="138.0" y1="606.2" x2="145.5" y2="606.2"/>
<line class="ax" x1="138.0" y1="654.1" x2="145.5" y2="654.1"/>
<line class="ax" x1="138.0" y1="702.0" x2="145.5" y2="702.0"/>
<line class="ax" x1="138.0" y1="749.8" x2="145.5" y2="749.8"/>
<line class="ax" x1="138.0" y1="797.6" x2="145.5" y2="797.6"/>
<text class="t" x="127.0" y="472.0" text-anchor="end" textLength="85.4" lengthAdjust="spacingAndGlyphs">1400000</text>
<text class="t" x="127.0" y="519.9" text-anchor="end" textLength="85.4" lengthAdjust="spacingAndGlyphs">1200000</text>
<text class="t" x="127.0" y="567.7" text-anchor="end" textLength="85.4" lengthAdjust="spacingAndGlyphs">1000000</text>
<text class="t" x="127.0" y="615.5" text-anchor="end" textLength="73.2" lengthAdjust="spacingAndGlyphs">800000</text>
<text class="t" x="127.0" y="663.4" text-anchor="end" textLength="73.2" lengthAdjust="spacingAndGlyphs">600000</text>
<text class="t" x="127.0" y="711.2" text-anchor="end" textLength="73.2" lengthAdjust="spacingAndGlyphs">400000</text>
<text class="t" x="127.0" y="759.1" text-anchor="end" textLength="73.2" lengthAdjust="spacingAndGlyphs">200000</text>
<text class="t" x="127.0" y="806.9" text-anchor="end" textLength="12.2" lengthAdjust="spacingAndGlyphs">0</text>
<text class="t" x="144.7" y="831.9" text-anchor="middle" textLength="12.1" lengthAdjust="spacingAndGlyphs">0</text>
<text class="t" x="241.0" y="831.9" text-anchor="middle" textLength="24.2" lengthAdjust="spacingAndGlyphs">10</text>
<text class="t" x="337.3" y="831.9" text-anchor="middle" textLength="24.2" lengthAdjust="spacingAndGlyphs">20</text>
<text class="t" x="433.6" y="831.9" text-anchor="middle" textLength="24.2" lengthAdjust="spacingAndGlyphs">30</text>
<text class="t" x="529.9" y="831.9" text-anchor="middle" textLength="24.2" lengthAdjust="spacingAndGlyphs">40</text>
<text class="t" x="626.2" y="831.9" text-anchor="middle" textLength="24.2" lengthAdjust="spacingAndGlyphs">50</text>
<text class="t" x="722.5" y="831.9" text-anchor="middle" textLength="24.2" lengthAdjust="spacingAndGlyphs">60</text>
<text class="b" x="368.6" y="871.4" textLength="126.6" lengthAdjust="spacingAndGlyphs">Time (min)</text>
<text class="f" transform="translate(21.0,697.0) rotate(-90)" textLength="158.6" lengthAdjust="spacingAndGlyphs">Fluorescence</text>
<text class="p" transform="translate(0.6,464.0) scale(0.97,1)">B</text>
</svg>
</body>
</html>
